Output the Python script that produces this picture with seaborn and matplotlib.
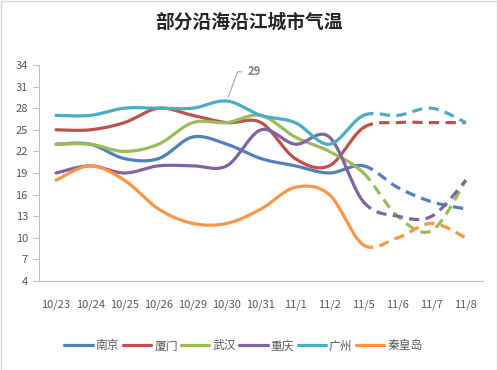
import numpy as np
import pandas as pd
from matplotlib import pyplot as plt
from matplotlib.lines import Line2D
from matplotlib.patches import Rectangle
import seaborn as sns

sns.set_theme(style='white')
plt.rcParams['font.family'] = ['Noto Sans CJK SC', 'DejaVu Sans']

dates = ['10/23', '10/24', '10/25', '10/26', '10/29', '10/30', '10/31',
         '11/1', '11/2', '11/5', '11/6', '11/7', '11/8']
cities = ['南京', '厦门', '武汉', '重庆', '广州', '秦皇岛']

nanjing = [23, 23, 21, 21, 24, 23, 21, 20, 19, 20, 17, 15, 14]
xiamen = [25, 25, 26, 28, 27, 26, 26, 21, 20, 25.3, 26, 26, 26]
wuhan = [23, 23, 22, 23, 26, 26, 27, 24, 22, 19, 13, 11, 18]
chongqing = [19, 20, 19, 20, 20, 20, 25, 23, 24, 15, 13, 13, 18]
guangzhou = [27, 27, 28, 28, 28, 29, 27, 26, 23, 27, 27, 28, 26]
qinhuangdao = [18, 20, 18, 14, 12, 12, 14, 17, 16, 9, 10, 12, 10]

# observed up to 11/5 (solid), forecast after (dashed)
split = 9
colors = ['#4F81BD', '#C0504D', '#9BBB59', '#8064A2', '#4BACC6', '#F79646']
grey = '#595959'


def smooth(xs, ys, n=40):
    # excel-like smoothed line: cubic bezier through the points
    xs = np.asarray(xs, float)
    ys = np.asarray(ys, float)
    px = np.concatenate([[xs[0]], xs, [xs[-1]]])
    py = np.concatenate([[ys[0]], ys, [ys[-1]]])
    out_x, out_y = [], []
    t = np.linspace(0, 1, n)
    for i in range(1, len(px) - 2):
        p0 = np.array([px[i], py[i]])
        p3 = np.array([px[i + 1], py[i + 1]])
        c1 = p0 + (np.array([px[i + 1], py[i + 1]]) - np.array([px[i - 1], py[i - 1]])) / 6
        c2 = p3 - (np.array([px[i + 2], py[i + 2]]) - np.array([px[i], py[i]])) / 6
        b = ((1 - t) ** 3)[:, None] * p0 + (3 * (1 - t) ** 2 * t)[:, None] * c1 \
            + (3 * (1 - t) * t ** 2)[:, None] * c2 + (t ** 3)[:, None] * p3
        start = 0 if i == 1 else 1
        out_x.extend(b[start:, 0])
        out_y.extend(b[start:, 1])
    return np.array(out_x), np.array(out_y)


series = [nanjing, xiamen, wuhan, chongqing, guangzhou, qinhuangdao]
frames = []
for city, vals in zip(cities, series):
    sx, sy = smooth(np.arange(len(dates)), vals)
    for part, mask in (('实测', sx <= split + 1e-9), ('预报', sx >= split - 1e-9)):
        frames.append(pd.DataFrame({'x': sx[mask], 'temp': sy[mask],
                                    'city': city, 'part': part}))
df = pd.concat(frames, ignore_index=True)

fig = plt.figure(figsize=(4.97, 3.70), dpi=100)
ax = fig.add_axes([39 / 497, 1 - 281 / 370, 444 / 497, 216 / 370])

sns.lineplot(data=df, x='x', y='temp', hue='city', style='part',
             palette=dict(zip(cities, colors)), hue_order=cities,
             dashes={'实测': '', '预报': (3.2, 2.0)},
             estimator=None, sort=False, linewidth=2.3, legend=False, ax=ax)
for line in ax.get_lines():
    line.set_solid_capstyle('round')

ax.set_xlim(-0.5, len(dates) - 0.5)
ax.set_ylim(4, 34)
ax.set_xticks(range(len(dates)))
ax.set_xticklabels(dates)
ax.set_yticks(range(4, 35, 3))
ax.set_xlabel('')
ax.set_ylabel('')
ax.tick_params(axis='both', labelsize=8, labelcolor=grey, pad=4)
ax.tick_params(axis='y', left=True, length=4, width=0.8, color='#BFBFBF')
ax.tick_params(axis='x', bottom=False, pad=7)
for side in ('top', 'right'):
    ax.spines[side].set_visible(False)
for side in ('left', 'bottom'):
    ax.spines[side].set_color('#BFBFBF')
    ax.spines[side].set_linewidth(0.8)

peak = guangzhou[5]
ax.annotate(str(peak), xy=(5, peak), xytext=(15, 21), textcoords='offset points',
            fontsize=8, fontweight='bold', color='#808080', ha='left', va='center',
            arrowprops=dict(arrowstyle='-', color='#A6A6A6', lw=0.8, shrinkA=2, shrinkB=3,
                            connectionstyle='angle,angleA=0,angleB=70,rad=0'))

fig.suptitle('部分沿海沿江城市气温', x=0.5, y=1 - 22 / 370, va='center',
             fontsize=13.5, fontweight='bold', color='#262626')

handles = [Line2D([], [], color=c, lw=2.3) for c in colors]
fig.legend(handles, cities, loc='center', bbox_to_anchor=(0.49, 24 / 370), ncol=6,
           frameon=False, fontsize=8.5, labelcolor=grey, handlelength=2.4,
           handletextpad=0.25, columnspacing=0.3)

fig.patches.append(Rectangle((0.5 / 497, 0.5 / 370), 1 - 1 / 497, 1 - 1 / 370,
                             transform=fig.transFigure, fill=False,
                             edgecolor='#D9D9D9', lw=1))

fig.savefig('out.png', dpi=100)
